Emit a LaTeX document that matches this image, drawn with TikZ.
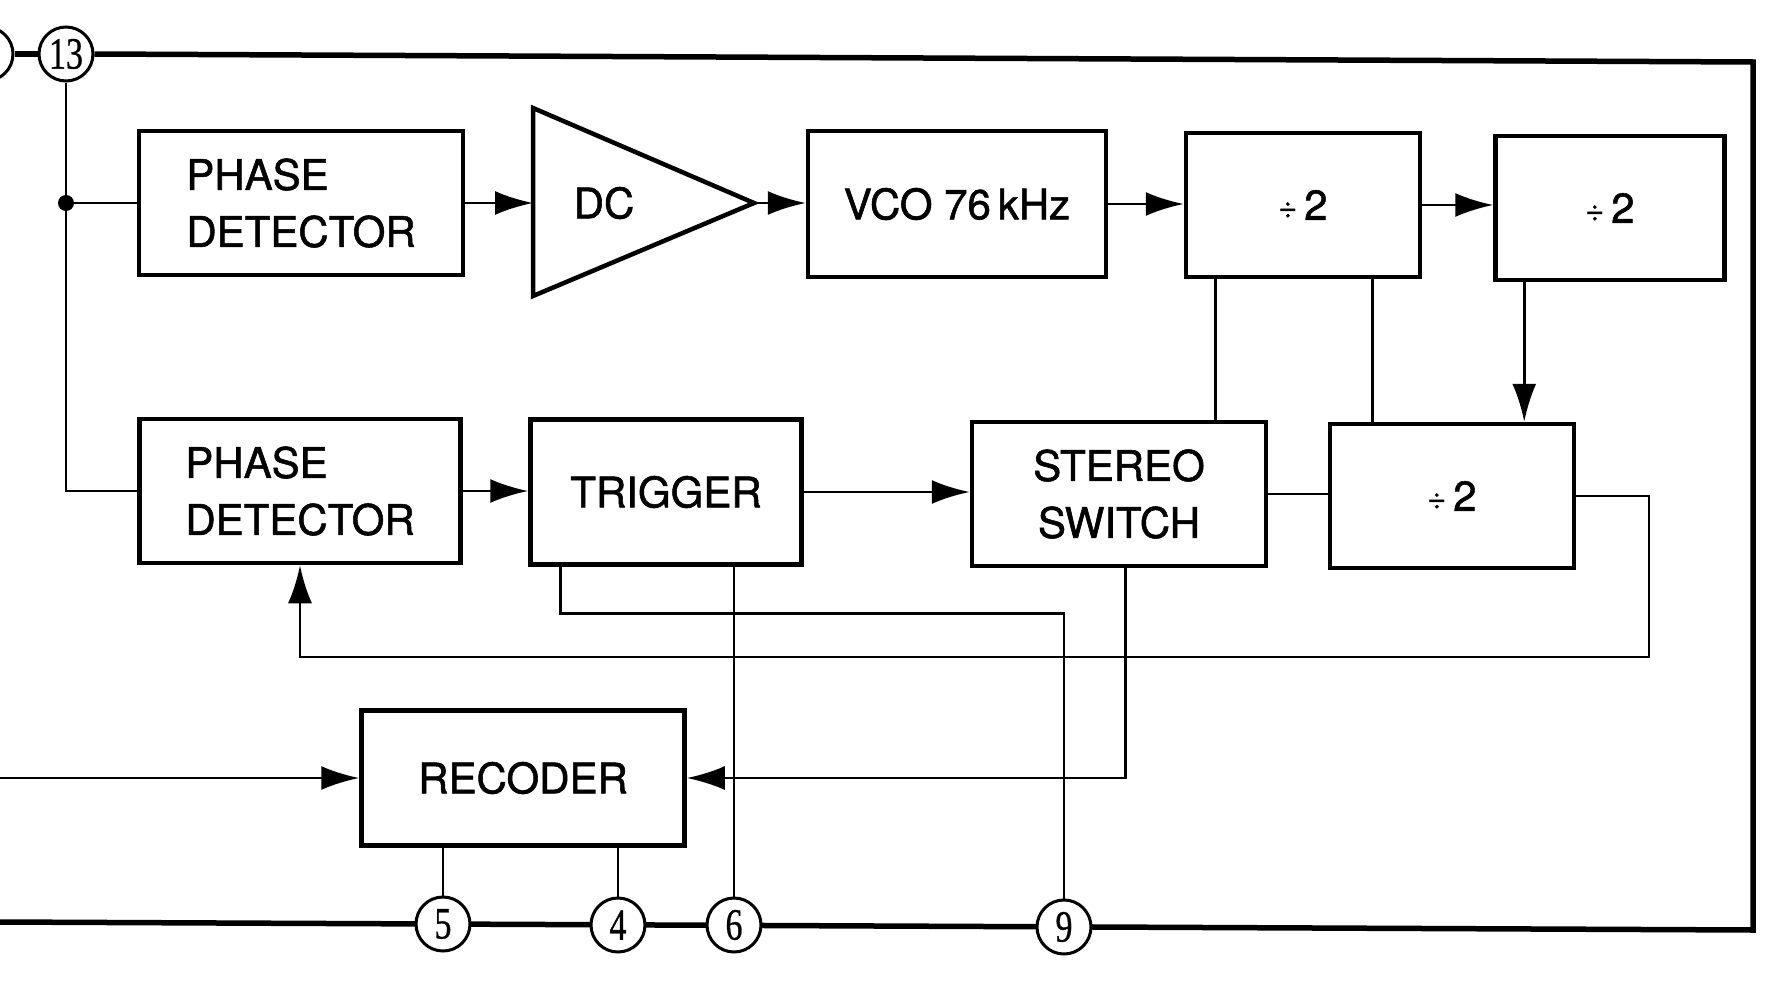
\documentclass[tikz,border=0pt]{standalone}
\usepackage{fontspec}
\setmainfont{TeX Gyre Heros}[FakeBold=1.3]
\newfontfamily\pinfont{Liberation Serif}[FakeBold=0.8]
\usetikzlibrary{arrows.meta}
\tikzset{
  blk/.style={draw, line width=4.5pt, rectangle, inner sep=0pt, align=center,
    font=\fontsize{42}{57}\selectfont},
  pin/.style={circle, draw, line width=3pt, fill=white, minimum size=54pt, inner sep=0pt,
    font=\pinfont\fontsize{40}{40}\selectfont},
  wire/.style={line width=2.8pt},
  arr/.style={line width=2.8pt, -{Latex[length=38pt,width=24pt]}},
  border/.style={line width=5.5pt},
  divtxt/.style={font=\fontsize{42}{57}\selectfont}
}
\newcommand{\divtwo}{{\fontsize{32}{32}\selectfont\raisebox{2pt}{÷}}\,2}
\newcommand{\pinnum}[1]{\scalebox{0.85}[1.12]{#1}}
\begin{document}
\begin{tikzpicture}[x=1pt,y=-1pt]
\useasboundingbox (0,0) rectangle (1791,980);
% blocks row 1
\node[blk, minimum width=324pt, minimum height=144pt, align=left] (pd1) at (301,203) {PHASE\\DETECTOR};
\draw[line width=4.5pt, line join=miter] (533,108) -- (533,296) -- (754,203) -- cycle;
\coordinate (dcin) at (533,203);
\coordinate (dcout) at (754,203);
\node[divtxt] (dc) at (604,203) {DC};
\node[blk, minimum width=298pt, minimum height=146pt] (vco) at (957,204) {VCO 76\,kHz};
\node[blk, minimum width=234pt, minimum height=144pt] (divA) at (1303,205) {\divtwo};
\node[blk, minimum width=229pt, minimum height=144pt] (divB) at (1610,208) {\divtwo};
% blocks row 2
\node[blk, minimum width=321pt, minimum height=144pt, align=left] (pd2) at (300,491) {PHASE\\DETECTOR};
\node[blk, minimum width=271pt, minimum height=145pt] (trig) at (666,492) {TRIGGER};
\node[blk, minimum width=294pt, minimum height=144pt] (stsw) at (1119,494) {STEREO\\SWITCH};
\node[blk, minimum width=244pt, minimum height=144pt] (divC) at (1452,496) {\divtwo};
\node[blk, minimum width=323pt, minimum height=135pt] (rec) at (523,778) {RECODER};
% pins
\node[pin] (p14) at (-14,54) {};
\node[pin] (p13) at (66,54) {\pinnum{13}};
\coordinate (bTR) at (1753,62);
\coordinate (bBR) at (1753,930);
\coordinate (bBL) at (0,922);
\coordinate (lin) at (0,778);
% border
\draw[border] (p14.east) -- (p13.west);
\draw[border, line join=miter] (p13.east) -- (bTR) -- (bBR) -- (bBL);
\node[pin] (p5) at (443,924) {\pinnum{5}};
\node[pin] (p4) at (618,925) {\pinnum{4}};
\node[pin] (p6) at (734,925) {\pinnum{6}};
\node[pin] (p9) at (1064,927) {\pinnum{9}};
% connectors
\draw[wire] (p13.south) |- (pd2.west);
\fill (p13 |- pd1.west) circle (8pt);
\draw[wire] (p13 |- pd1.west) -- (pd1.west);
\draw[arr] (pd1.east) -- (dcin);
\draw[arr] (dcout) -- (dcout -| vco.west);
\draw[arr] (vco.east) -- (vco.east -| divA.west);
\draw[arr] (divA.east) -- (divA.east -| divB.west);
\draw[wire] ([xshift=32pt]divA.south west) -- ([xshift=32pt]divA.south west |- stsw.north);
\draw[wire] ([xshift=189pt]divA.south west) -- ([xshift=189pt]divA.south west |- divC.north);
\draw[arr] ([xshift=31pt]divB.south west) -- ([xshift=31pt]divB.south west |- divC.north);
\draw[arr] (pd2.east) -- (pd2.east -| trig.west);
\draw[arr] (trig.east) -- (trig.east -| stsw.west);
\draw[wire] (stsw.east) -- (stsw.east -| divC.west);
\coordinate (fbR) at (1649,657);
\draw[arr] (divC.east) -| (fbR) -| (pd2.south);
\draw[wire] ([xshift=32pt]trig.south west) -- ++(0,47) -| (p9.north);
\draw[wire] (p6.north |- trig.south) -- (p6.north);
\draw[arr] ([xshift=156pt]stsw.south west) |- (rec.east);
\draw[arr] (lin) -- (rec.west);
\draw[wire] (p5.north |- rec.south) -- (p5.north);
\draw[wire] (p4.north |- rec.south) -- (p4.north);
\end{tikzpicture}
\end{document}
